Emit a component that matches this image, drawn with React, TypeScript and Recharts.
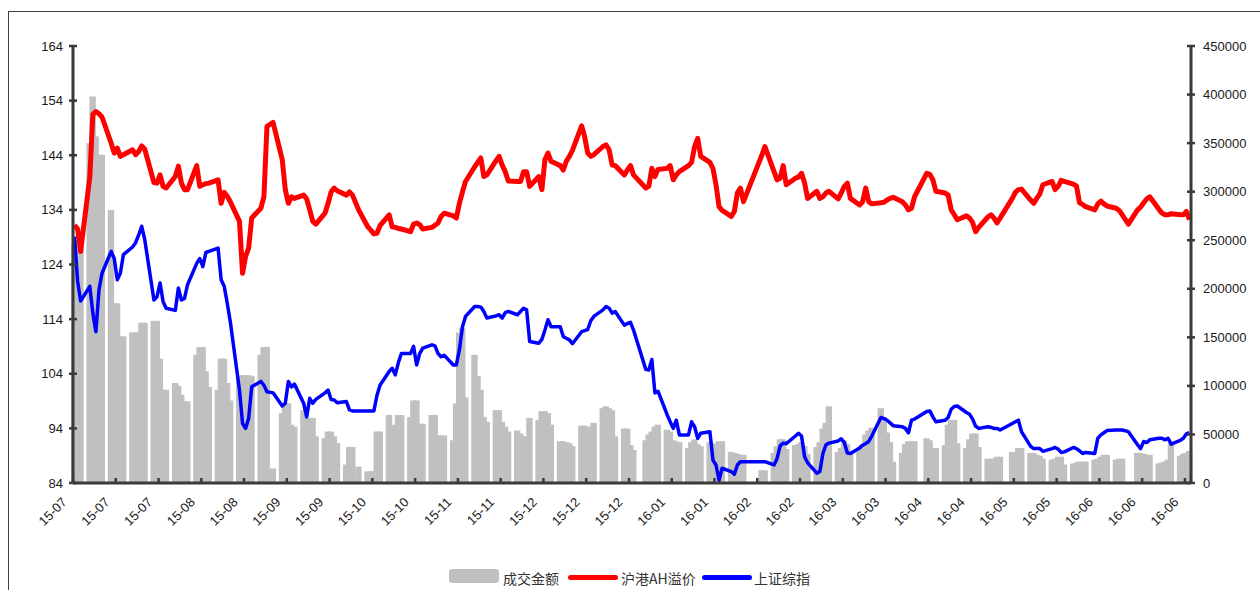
import { ComposedChart, Bar, Line, XAxis, YAxis } from 'recharts'

// axis labels, one every 14 calendar days from 2015-07-01
const tickLabels = [
  '15-07', '15-07', '15-07', '15-08', '15-08', '15-09', '15-09', '15-10', '15-10',
  '15-11', '15-11', '15-12', '15-12', '15-12', '16-01', '16-01', '16-02', '16-02',
  '16-03', '16-03', '16-04', '16-04', '16-05', '16-05', '16-06', '16-06', '16-06',
]
const leftTicks = [84, 94, 104, 114, 124, 134, 144, 154, 164]
const rightTicks = [0, 50000, 100000, 150000, 200000, 250000, 300000, 350000, 400000, 450000]

// weekdays with no trading in either market
const closedDays = [
  '2015-09-03', '2015-10-01', '2016-01-01', '2016-02-08', '2016-02-09',
  '2016-02-10', '2016-04-04', '2016-05-02', '2016-06-09',
]

// 成交金额, one value per trading day (grouped by week)
const volume = [
  245000, 250000, 250000,
  350000, 398000, 357000, 338000, 338000,
  281000, 185000, 185000, 151000, 151000,
  155000, 155000, 155000, 165000, 165000,
  167000, 167000, 128000, 96000, 96000,
  103000, 100000, 91000, 84000, 84000,
  132000, 140000, 140000, 115000, 99000,
  96000, 128000, 128000, 103000, 85000,
  109000, 111000, 111000, 111000, 110000,
  132000, 140000, 140000, 15000,
  72000, 82000, 82000, 60000, 58000,
  75000, 67000, 67000, 67000, 48000,
  46000, 53000, 53000, 48000, 41000,
  19000, 37000, 37000, 17000,
  12000, 12000, 12000, 53000, 53000,
  70000, 60000, 51000, 70000, 70000,
  68000, 85000, 85000, 61000, 61000,
  70000, 70000, 49000, 49000, 49000,
  44000, 82000, 155000, 160000, 88000,
  132000, 110000, 96000, 68000, 63000,
  75000, 75000, 63000, 58000, 53000,
  54000, 51000, 48000, 48000, 67000,
  65000, 74000, 74000, 72000, 60000,
  43000, 43000, 42000, 41000, 38000,
  59000, 59000, 54000, 58000, 62000,
  77000, 79000, 77000, 75000, 48000,
  56000, 56000, 39000, 34000,
  44000, 50000, 53000, 58000, 60000,
  55000, 53000, 44000, 43000, 42000,
  36000, 42000, 45000, 40000, 38000,
  42000, 41000, 40000, 43000, 43000,
  32000, 31000, 30000, 29000, 29000,
  13000, 13000,
  31000, 38000, 45000, 45000, 35000,
  39000, 40000, 42000, 38000, 30000,
  37000, 42000, 56000, 62000, 79000,
  32000, 36000, 44000, 40000, 30000,
  36000, 40000, 50000, 54000, 57000,
  77000, 68000, 52000, 42000, 22000,
  31000, 40000, 43000, 43000, 43000,
  46000, 44000, 36000, 36000,
  39000, 60000, 65000, 65000, 41000,
  36000, 45000, 51000, 51000, 37000,
  25000, 25000, 25000, 27000, 27000,
  32000, 32000, 36000, 36000,
  31000, 31000, 29000, 28000, 25000,
  24000, 25000, 27000, 27000, 19000,
  20000, 21000, 22000, 22000, 22000,
  24000, 25000, 27000, 29000, 29000,
  24000, 25000, 25000, 0,
  31000, 31000, 30000, 29000, 29000,
  20000, 21000, 22000, 24000, 41000,
  28000, 30000, 31000, 33000,
]

// 沪港AH溢价
const ahPremium = [
  131.2, 130.5, 126.4,
  140.0, 151.5, 152.0, 151.6, 151.0,
  146.2, 144.4, 145.3, 143.8, 144.1,
  145.0, 144.1, 144.7, 145.7, 145.1,
  139.0, 138.9, 140.4, 138.3, 138.0,
  140.1, 142.0, 138.9, 137.7, 137.7,
  142.1, 138.3, 138.6, 138.8, 138.9,
  139.5, 135.2, 137.2, 136.5, 135.5,
  131.9, 122.4, 125.5, 127.0, 132.5,
  134.3, 136.4, 149.3, 150.0,
  143.2, 137.7, 135.2, 136.4, 136.1,
  136.7, 136.0, 134.0, 131.9, 131.4,
  133.4, 135.2, 137.3, 138.0, 137.5,
  136.7, 137.3, 136.7, 134.0,
  130.9, 130.3, 129.6, 129.7, 131.1,
  133.1, 130.9, 130.8, 130.6, 130.5,
  130.0, 131.4, 131.6, 131.3, 130.5,
  130.8, 131.2, 131.6, 132.8, 133.4,
  132.9, 132.5, 135.2, 137.3, 139.2,
  141.9, 142.7, 143.5, 140.1, 140.4,
  143.0, 143.8, 142.2, 141.0, 139.3,
  139.2, 139.2, 141.0, 141.0, 138.3,
  140.1, 137.7, 143.2, 144.4, 142.9,
  142.1, 141.3, 142.9, 143.8, 144.9,
  149.4, 147.4, 144.4, 143.8, 144.1,
  145.6, 145.9, 145.0, 142.2, 142.1,
  140.4, 141.3, 142.1, 140.4,
  138.0, 138.3, 141.6, 140.1, 141.4,
  141.6, 142.1, 139.5, 140.4, 141.0,
  142.1, 142.7, 145.6, 147.1, 143.8,
  142.7, 141.6, 138.6, 134.6, 133.9,
  132.8, 133.7, 137.1, 138.0, 135.5,
  144.0, 145.6,
  141.0, 139.5, 139.8, 142.1, 138.6,
  139.8, 140.0, 140.7, 138.9, 136.1,
  137.4, 136.1, 136.4, 137.1, 137.4,
  136.0, 137.1, 138.3, 138.9, 136.1,
  134.9, 135.5, 138.0, 135.5, 135.1,
  135.3, 135.4, 135.8, 136.1, 136.3,
  135.5, 134.9, 134.0, 134.3, 136.4,
  140.7, 140.5, 139.5, 137.4,
  137.1, 136.7, 134.0, 133.1, 132.2,
  132.9, 132.5, 131.7, 130.0, 130.8,
  132.7, 133.1, 132.5, 131.6, 132.5,
  136.1, 137.2, 137.7, 137.8,
  135.8, 135.2, 136.1, 136.9, 138.6,
  139.2, 137.7, 138.3, 139.4, 139.2,
  138.7, 138.4, 135.3, 135.0, 134.6,
  134.0, 135.1, 135.6, 135.1, 134.7,
  134.3, 133.9, 133.1, 131.4,
  134.0, 134.5, 135.3, 136.0, 136.4,
  134.1, 133.4, 133.1, 133.1, 133.3,
  133.1, 133.1, 133.7, 132.2,
]

// 上证综指, read against the left scale
const shComposite = [
  129.1, 121.0, 117.3,
  120.0, 115.1, 111.7, 119.3, 122.4,
  126.4, 125.1, 121.2, 122.4, 125.8,
  127.2, 128.0, 129.4, 131.0, 128.5,
  117.5, 118.1, 120.6, 117.2, 116.0,
  115.6, 119.7, 117.5, 117.8, 120.3,
  124.2, 125.1, 123.6, 126.2, 126.4,
  127.0, 121.2, 120.0, 116.9, 113.5,
  101.0, 94.9, 94.0, 95.8, 101.6,
  102.6, 101.9, 100.7, 100.5,
  98.1, 98.6, 102.6, 101.6, 102.1,
  98.6, 96.1, 99.5, 98.6, 99.3,
  100.5, 101.0, 99.3, 99.2, 98.7,
  98.9, 97.4, 97.2, 97.2,
  97.2, 97.2, 97.2, 100.0, 101.9,
  104.4, 105.0, 103.8, 106.0, 107.7,
  107.7, 109.0, 105.6, 107.7, 108.7,
  109.3, 109.1, 107.7, 107.1, 107.4,
  105.6, 105.6, 108.4, 112.6, 114.5,
  116.3, 116.3, 116.2, 115.4, 114.2,
  114.6, 114.8, 114.2, 115.2, 115.4,
  114.8, 115.4, 116.0, 115.7, 109.9,
  109.6, 110.3, 112.0, 113.9, 112.6,
  112.6, 110.8, 110.5, 110.2, 109.5,
  111.7, 111.9, 112.1, 113.7, 114.5,
  115.7, 116.3, 116.0, 115.1, 115.4,
  112.9, 113.2, 113.4, 112.0,
  104.8, 104.7, 106.6, 100.5, 100.8,
  96.5, 95.2, 94.0, 95.5, 92.8,
  92.8, 95.2, 94.3, 92.2, 93.1,
  93.4, 88.2, 87.3, 84.5, 86.7,
  86.1, 85.6, 87.3, 87.9, 87.9,
  87.9, 87.9,
  87.3, 88.5, 90.8, 91.3, 91.2,
  92.6, 93.1, 92.6, 88.8, 87.7,
  85.8, 86.1, 89.4, 91.0, 91.3,
  91.7, 92.1, 91.4, 89.5, 89.4,
  90.4, 90.9, 91.2, 91.6, 92.6,
  96.0, 95.8, 95.5, 95.0, 94.5,
  94.3, 94.0, 93.2, 95.5, 95.7,
  97.1, 97.2, 96.1, 95.2,
  95.5, 96.0, 97.5, 98.0, 98.1,
  96.9, 96.6, 95.7, 94.4, 94.0,
  94.3, 94.2, 94.0, 94.0, 93.7,
  94.9, 95.2, 95.5, 93.4,
  90.7, 90.3, 90.3, 90.3, 89.8,
  90.3, 90.5, 90.2, 89.6, 89.7,
  90.5, 90.3, 89.9, 89.4, 89.6,
  89.4, 92.2, 92.8, 93.2, 93.6,
  93.7, 93.7, 93.7, 93.4,
  91.0, 90.3, 91.6, 91.4, 91.9,
  92.2, 92.2, 91.9, 92.2, 91.1,
  91.8, 92.2, 93.0, 93.2,
]

const AXIS = '#3a3a3a'
const FONT = '"Liberation Sans", Arial, sans-serif'

// one row per calendar day, trading values filled in order
const buildRows = () => {
  const rows: Array<{ i: number; vol: number | null; ah: number | null; sh: number | null }> = []
  let k = 0
  for (let i = 0; i < 366; i++) {
    const d = new Date(Date.UTC(2015, 6, 1 + i))
    const iso = d.toISOString().slice(0, 10)
    const wd = d.getUTCDay()
    const open = wd !== 0 && wd !== 6 && !closedDays.includes(iso)
    rows.push({
      i,
      vol: open ? volume[k] ?? null : null,
      ah: open ? ahPremium[k] ?? null : null,
      sh: open ? shComposite[k] ?? null : null,
    })
    if (open) k++
  }
  return rows
}

const rows = buildRows()

// bars are about two days wide, so neighbours overlap like the original
function WideBar(props: any) {
  const { x, y, width, height } = props
  if (height == null || height <= 0) return null
  const cx = x + width / 2
  return <rect x={cx - 3.2} y={y} width={6.4} height={height} fill="#c0c0c0" />
}

function DateTick({ x, y, payload }: any) {
  const label = tickLabels[Math.round(payload.value / 14)]
  return (
    <g transform={`translate(${x},${y})`}>
      <line x1={-1.5} x2={-1.5} y1={0} y2={-5} stroke={AXIS} strokeWidth={2.5} />
      <text
        transform="translate(-7,20) rotate(-45)"
        textAnchor="end"
        fontSize={13}
        fontFamily={FONT}
        fill="#1a1a1a"
      >
        {label}
      </text>
    </g>
  )
}

function LeftTick({ x, y, payload }: any) {
  return (
    <g>
      <line x1={x - 4} x2={x + 4} y1={y} y2={y} stroke={AXIS} strokeWidth={2.5} />
      <text x={x - 10} y={y} dy={4.5} textAnchor="end" fontSize={13} fontFamily={FONT} fill="#1a1a1a">
        {payload.value}
      </text>
    </g>
  )
}

function RightTick({ x, y, payload }: any) {
  return (
    <g>
      <line x1={x - 4} x2={x + 4} y1={y} y2={y} stroke={AXIS} strokeWidth={2.5} />
      <text x={x + 12} y={y} dy={4.5} textAnchor="start" fontSize={13} fontFamily={FONT} fill="#1a1a1a">
        {payload.value}
      </text>
    </g>
  )
}

const legendText: React.CSSProperties = {
  position: 'absolute',
  top: 570,
  fontSize: 14,
  lineHeight: '16px',
  color: '#333',
  fontFamily: '"Noto Sans CJK SC", serif',
}

export default function App() {
  return (
    <div style={{ position: 'absolute', left: 0, top: 0, width: 1260, height: 590, background: '#fff', overflow: 'hidden' }}>
      <div
        style={{
          position: 'absolute',
          left: 8,
          top: 11,
          width: 1260,
          height: 600,
          borderTop: '1.5px solid #404040',
          borderLeft: '1.5px solid #404040',
        }}
      />
      <div style={{ position: 'absolute', left: 0, top: 0 }}>
        <ComposedChart width={1260} height={590} data={rows} margin={{ top: 46, right: 0, bottom: 0, left: 0 }}>
          <XAxis
            dataKey="i"
            type="category"
            interval={13}
            height={107}
            tickSize={0}
            tickMargin={0}
            tickLine={false}
            axisLine={{ stroke: AXIS, strokeWidth: 3 }}
            tick={<DateTick />}
          />
          <YAxis
            yAxisId="left"
            orientation="left"
            width={73}
            domain={[84, 164]}
            ticks={leftTicks}
            interval={0}
            tickSize={0}
            tickMargin={0}
            tickLine={false}
            axisLine={{ stroke: AXIS, strokeWidth: 3 }}
            tick={<LeftTick />}
          />
          <YAxis
            yAxisId="right"
            orientation="right"
            width={69}
            domain={[0, 450000]}
            ticks={rightTicks}
            interval={0}
            tickSize={0}
            tickMargin={0}
            tickLine={false}
            axisLine={{ stroke: AXIS, strokeWidth: 3 }}
            tick={<RightTick />}
          />
          <Bar yAxisId="right" dataKey="vol" fill="#c0c0c0" shape={<WideBar />} isAnimationActive={false} />
          <Line
            yAxisId="left"
            type="linear"
            dataKey="ah"
            stroke="#ff0000"
            strokeWidth={5}
            strokeLinejoin="round"
            dot={false}
            connectNulls
            isAnimationActive={false}
          />
          <Line
            yAxisId="left"
            type="linear"
            dataKey="sh"
            stroke="#0000ff"
            strokeWidth={3.5}
            strokeLinejoin="round"
            dot={false}
            connectNulls
            isAnimationActive={false}
          />
        </ComposedChart>
      </div>
      <div style={{ position: 'absolute', left: 449, top: 569, width: 50, height: 14, borderRadius: 3, background: '#c0c0c0' }} />
      <div style={{ ...legendText, left: 503 }}>成交金额</div>
      <div style={{ position: 'absolute', left: 568, top: 575, width: 50, height: 5, borderRadius: 3, background: '#ff0000' }} />
      <div style={{ ...legendText, left: 621 }}>沪港AH溢价</div>
      <div style={{ position: 'absolute', left: 702, top: 575, width: 50, height: 5, borderRadius: 3, background: '#0000ff' }} />
      <div style={{ ...legendText, left: 754 }}>上证综指</div>
    </div>
  )
}
